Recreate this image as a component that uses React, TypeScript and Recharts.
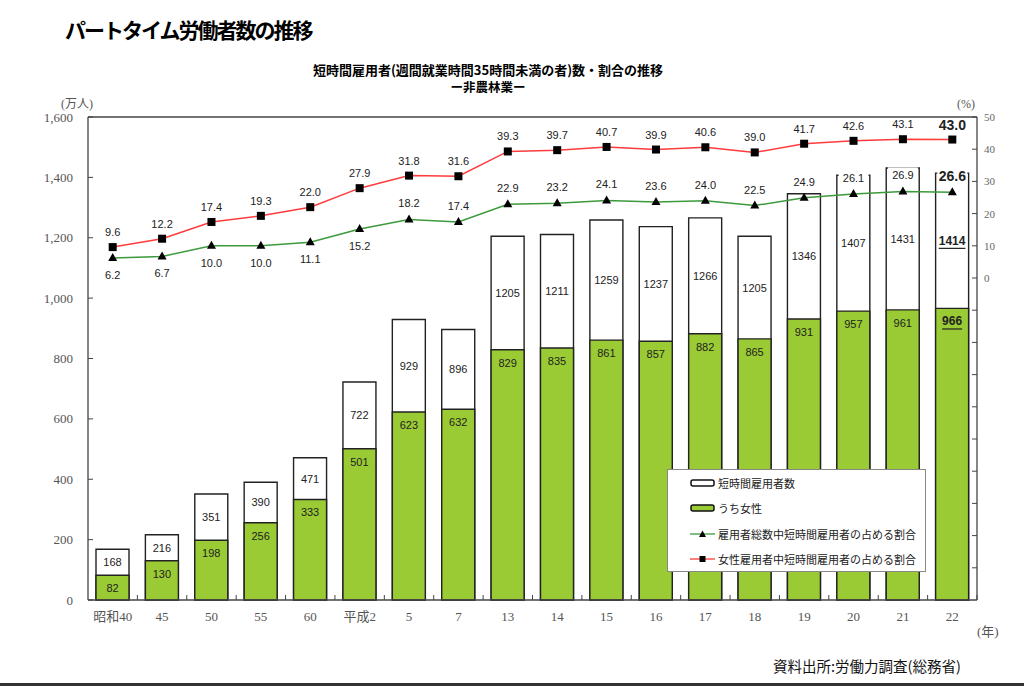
import React from 'react';
import {
  ComposedChart, Bar, Line, XAxis, YAxis, ReferenceLine, LabelList, Legend,
} from 'recharts';

const categories = ['昭和40', '45', '50', '55', '60', '平成2', '5', '7', '13', '14', '15', '16', '17', '18', '19', '20', '21', '22'];
const totalWorkers = [168, 216, 351, 390, 471, 722, 929, 896, 1205, 1211, 1259, 1237, 1266, 1205, 1346, 1407, 1431, 1414];
const femaleWorkers = [82, 130, 198, 256, 333, 501, 623, 632, 829, 835, 861, 857, 882, 865, 931, 957, 961, 966];
const shareAll = [6.2, 6.7, 10.0, 10.0, 11.1, 15.2, 18.2, 17.4, 22.9, 23.2, 24.1, 23.6, 24.0, 22.5, 24.9, 26.1, 26.9, 26.6];
const shareFemale = [9.6, 12.2, 17.4, 19.3, 22.0, 27.9, 31.8, 31.6, 39.3, 39.7, 40.7, 39.9, 40.6, 39.0, 41.7, 42.6, 43.1, 43.0];
const leftTicks = [0, 200, 400, 600, 800, 1000, 1200, 1400, 1600];
const rightTicks = [-90, -80, -70, -60, -50, -40, -30, -20, -10, 0, 10, 20, 30, 40, 50];

const data = categories.map((year, i) => ({
  year,
  total: totalWorkers[i],
  female: femaleWorkers[i],
  all: shareAll[i],
  fem: shareFemale[i],
}));

const W = 1024;
const H = 686;
const M = { top: 117, right: 7, bottom: 56, left: 28 };
const PLOT_W = W - 88 - 47;
const STEP = PLOT_W / categories.length;
const LAST = categories.length - 1;
const BAR = 33;

const GREEN = '#9acb34';
const LINE_GREEN = '#3c9a3c';
const LINE_RED = '#ff3b3b';
const SANS = 'Arial, "Liberation Sans", "Noto Sans CJK JP", sans-serif';
const SERIF = '"Liberation Serif", "DejaVu Serif", "Noto Sans CJK JP", serif';
const CJK = '"Noto Sans CJK JP", sans-serif';

const XTick = (p: any) => {
  const { x, y, payload } = p;
  return (
    <g>
      <line x1={x + STEP / 2} x2={x + STEP / 2} y1={y} y2={y - 5} stroke="#444" />
      <text x={x} y={y + 16} textAnchor="middle" dominantBaseline="central"
        fontSize={13} fill="#555" fontFamily={SERIF}>{payload.value}</text>
    </g>
  );
};

const TotalLabel = (p: any) => {
  const { x, y, width, height, index } = p;
  const whiteH = height * (1 - femaleWorkers[index] / totalWorkers[index]);
  const last = index === LAST;
  return (
    <text x={x + width / 2} y={y + whiteH / 2} textAnchor="middle" dominantBaseline="central"
      fontSize={last ? 12 : 11} fontWeight={last ? 700 : 400} fill="#222" fontFamily={SANS}
      textDecoration={last ? 'underline' : undefined}>{totalWorkers[index]}</text>
  );
};

const FemaleLabel = (p: any) => {
  const { x, y, width, index } = p;
  const last = index === LAST;
  return (
    <text x={x + width / 2} y={y + 13} textAnchor="middle" dominantBaseline="central"
      fontSize={last ? 12 : 11} fontWeight={last ? 700 : 400} fill="#222" fontFamily={SANS}
      textDecoration={last ? 'underline' : undefined}>{femaleWorkers[index]}</text>
  );
};

const RedLabel = (p: any) => {
  const { x, y, index } = p;
  const last = index === LAST;
  return (
    <text x={x} y={y - 15} textAnchor="middle" dominantBaseline="central"
      fontSize={last ? 14 : 11} fontWeight={last ? 700 : 400} fill="#222" fontFamily={SANS}>
      {shareFemale[index].toFixed(1)}
    </text>
  );
};

const GreenLabel = (p: any) => {
  const { x, y, index } = p;
  const last = index === LAST;
  const below = index <= 5;
  const ty = below ? y + 17 : y - 16;
  return (
    <g>
      {!below && <rect x={x - 15} y={ty - 8} width={30} height={16} fill="#fff" />}
      <text x={x} y={ty} textAnchor="middle" dominantBaseline="central"
        fontSize={last ? 14 : 11} fontWeight={last ? 700 : 400} fill="#222" fontFamily={SANS}>
        {shareAll[index].toFixed(1)}
      </text>
    </g>
  );
};

const TriDot = (p: any) => {
  const { cx, cy, index } = p;
  return <polygon key={`t${index}`} points={`${cx},${cy - 5} ${cx - 4.5},${cy + 3} ${cx + 4.5},${cy + 3}`} fill="#000" />;
};

const SqDot = (p: any) => {
  const { cx, cy, index } = p;
  return <rect key={`s${index}`} x={cx - 4} y={cy - 4} width={8} height={8} fill="#000" />;
};

const legendItems = [
  { label: '短時間雇用者数', kind: 'bar', color: '#fff' },
  { label: 'うち女性', kind: 'bar', color: GREEN },
  { label: '雇用者総数中短時間雇用者の占める割合', kind: 'tri', color: LINE_GREEN },
  { label: '女性雇用者中短時間雇用者の占める割合', kind: 'sq', color: LINE_RED },
];

const LegendBox = () => (
  <div style={{
    width: 259, height: 103, border: '1px solid #888', background: '#fff',
    boxSizing: 'border-box', padding: '0 0 0 22px', fontFamily: CJK, fontSize: 11, color: '#222',
  }}>
    {legendItems.map((it) => (
      <div key={it.label} style={{ display: 'flex', alignItems: 'center', height: 25.5 }}>
        <svg width={26} height={10} style={{ marginRight: 2 }}>
          {it.kind === 'bar' ? (
            <rect x={1} y={2} width={23} height={6} rx={2} fill={it.color} stroke="#111" strokeWidth={1.5} />
          ) : (
            <g>
              <line x1={0} x2={25} y1={5} y2={5} stroke={it.color} strokeWidth={1.3} />
              {it.kind === 'tri'
                ? <polygon points="12.5,1.5 9,8 16,8" fill="#000" />
                : <rect x={9.5} y={2} width={6} height={6} fill="#000" />}
            </g>
          )}
        </svg>
        <span>{it.label}</span>
      </div>
    ))}
  </div>
);

const txt = (style: React.CSSProperties, content: string) => (
  <div style={{ position: 'absolute', whiteSpace: 'nowrap', lineHeight: 1, ...style }}>{content}</div>
);

export default function App() {
  return (
    <div style={{ position: 'absolute', left: 0, top: 0, width: W, height: H, background: '#fff', overflow: 'hidden' }}>
      {txt({ left: 65, top: 19, fontSize: 21, fontWeight: 700, letterSpacing: -2, fontFamily: CJK, color: '#000' }, 'パートタイム労働者数の推移')}
      {txt({ left: 0, width: 976, textAlign: 'center', top: 63, fontSize: 13, fontWeight: 700, fontFamily: CJK, color: '#000' }, '短時間雇用者(週間就業時間35時間未満の者)数・割合の推移')}
      {txt({ left: 0, width: 976, textAlign: 'center', top: 81, fontSize: 12.5, fontWeight: 700, fontFamily: CJK, color: '#000' }, 'ー非農林業ー')}
      {txt({ left: 61, top: 98, fontSize: 12, fontFamily: SERIF, color: '#555' }, '(万人)')}
      {txt({ left: 957, top: 98, fontSize: 12, fontFamily: SERIF, color: '#555' }, '(%)')}
      {txt({ left: 977, top: 625, fontSize: 13, fontFamily: SERIF, color: '#555' }, '(年)')}
      {txt({ left: 773, top: 659, fontSize: 14.5, fontFamily: CJK, color: '#111' }, '資料出所:労働力調査(総務省)')}
      <div style={{ position: 'absolute', left: 0, top: 683, width: W, height: 3, background: '#333' }} />
      <div style={{ position: 'absolute', left: 0, top: 0 }}>
        <ComposedChart width={W} height={H} data={data} margin={M} barGap={-BAR}>
          <XAxis dataKey="year" height={30} tickSize={0} tickMargin={0} tick={<XTick />}
            axisLine={{ stroke: '#444', strokeWidth: 1.3 }} interval={0} />
          <YAxis yAxisId="left" width={60} domain={[0, 1600]} ticks={leftTicks} interval={0}
            tickSize={-5} tickMargin={20} tickLine={{ stroke: '#444' }}
            axisLine={{ stroke: '#444', strokeWidth: 1.3 }}
            tickFormatter={(v: number) => v.toLocaleString('en-US')}
            tick={{ fill: '#555', fontSize: 13, fontFamily: SERIF }} />
          <YAxis yAxisId="right" orientation="right" width={40} domain={[-100, 50]} ticks={rightTicks} interval={0}
            tickSize={-5} tickMargin={12} tickLine={{ stroke: '#444' }}
            axisLine={{ stroke: '#444', strokeWidth: 1.3 }}
            tickFormatter={(v: number) => (v >= 0 ? String(v) : '')}
            tick={{ fill: '#666', fontSize: 11, fontFamily: SERIF, textAnchor: 'start' }} />
          <ReferenceLine yAxisId="left" y={1600} stroke="#444" strokeWidth={1.3} />
          <Bar yAxisId="left" dataKey="total" fill="#fff" stroke="#222" strokeWidth={1.4}
            barSize={BAR} isAnimationActive={false}>
            <LabelList dataKey="total" content={<TotalLabel />} />
          </Bar>
          <Bar yAxisId="left" dataKey="female" fill={GREEN} stroke="#222" strokeWidth={1.4}
            barSize={BAR} isAnimationActive={false}>
            <LabelList dataKey="female" content={<FemaleLabel />} />
          </Bar>
          <Line yAxisId="right" dataKey="all" stroke={LINE_GREEN} strokeWidth={1.5}
            dot={TriDot} activeDot={false} isAnimationActive={false}>
            <LabelList dataKey="all" content={<GreenLabel />} />
          </Line>
          <Line yAxisId="right" dataKey="fem" stroke={LINE_RED} strokeWidth={1.5}
            dot={SqDot} activeDot={false} isAnimationActive={false}>
            <LabelList dataKey="fem" content={<RedLabel />} />
          </Line>
          <Legend layout="horizontal" verticalAlign="middle" align="center" content={<LegendBox />}
            wrapperStyle={{ left: 667, top: 469, width: 259, height: 103 }} />
        </ComposedChart>
      </div>
    </div>
  );
}
